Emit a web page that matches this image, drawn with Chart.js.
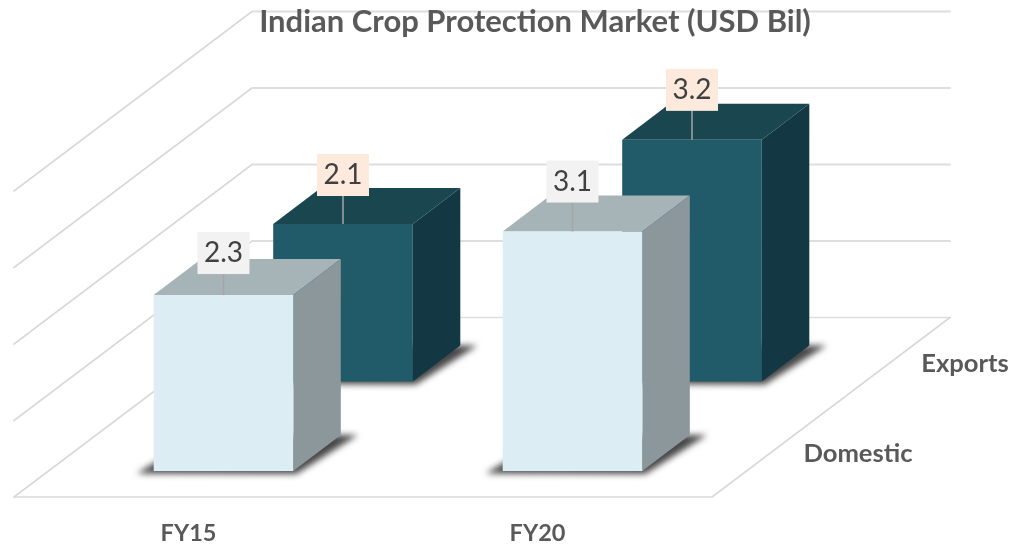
<!DOCTYPE html>
<html>
<head>
<meta charset="utf-8">
<style>html,body{margin:0;padding:0;background:#fff}canvas{display:block}</style>
<script src="https://cdn.jsdelivr.net/npm/chart.js@4"></script>
</head>
<body>
<canvas id="c" width="1011" height="548"></canvas>
<script>
const categories = ['FY15', 'FY20'];
const domesticValues = [2.3, 3.13];
const exportsValues = [2.06, 3.16];
const gridValues = [0, 1, 2, 3, 4];

const FONT = 'Lato, "Open Sans", sans-serif';
const TEXT = '#595959';
const DEPTH = {dx: 238, dy: 179.5};
const BAR_DEPTH = {dx: 47.5, dy: 36};
const STYLES = [
  {front: '#215A68', top: '#19464F', side: '#143843', labelBg: '#FDEADD', dx: 154.5, dy: 115.4, gaps: [28, 29], depthLabel: [253, -133.5]},
  {front: '#DCEEF4', top: '#A6B3B7', side: '#8B979B', labelBg: '#F2F2F2', dx: 35, dy: 26, gaps: [21, 29], depthLabel: [146, -43.5]}
];

function poly(ctx, pts, fill) {
  ctx.beginPath();
  pts.forEach((p, i) => i ? ctx.lineTo(p[0], p[1]) : ctx.moveTo(p[0], p[1]));
  ctx.closePath();
  ctx.fillStyle = fill;
  ctx.fill();
}
function line(ctx, x0, y0, x1, y1, w, color) {
  ctx.beginPath();
  ctx.moveTo(x0, y0);
  ctx.lineTo(x1, y1);
  ctx.lineWidth = w;
  ctx.strokeStyle = color;
  ctx.stroke();
}

const scene = {
  id: 'scene',
  beforeDraw(chart) {
    const {ctx, chartArea: a, scales} = chart;
    const t = chart.titleBlock;
    t.left = 69; t.right = 1001;
    ctx.save();
    ctx.lineCap = 'round';
    gridValues.forEach(v => {
      const y = scales.y.getPixelForValue(v);
      line(ctx, a.left, y, a.left + DEPTH.dx, y - DEPTH.dy, 1.6, '#D9D9D9');
      line(ctx, a.left + DEPTH.dx, y - DEPTH.dy, a.right + DEPTH.dx, y - DEPTH.dy, v === 0 ? 1.6 : 2, '#DEDEDE');
    });
    line(ctx, a.left, a.bottom, a.right, a.bottom, 1.6, '#D9D9D9');
    line(ctx, a.right, a.bottom, a.right + DEPTH.dx, a.bottom - DEPTH.dy, 1.6, '#D9D9D9');
    ctx.restore();
  },
  beforeDatasetsDraw(chart) {
    const {ctx, chartArea: a} = chart;
    ctx.save();
    const labels = [];
    chart.data.datasets.forEach((ds, di) => {
      const s = STYLES[di];
      chart.getDatasetMeta(di).data.forEach((el, i) => {
        const l = el.x - el.width / 2 + s.dx, r = el.x + el.width / 2 + s.dx;
        const top = el.y - s.dy, base = el.base - s.dy;
        const bx = BAR_DEPTH.dx, by = BAR_DEPTH.dy;
        // floor shadow
        ctx.save();
        ctx.filter = 'blur(3px)';
        poly(ctx, [[l - 17, base + 2.5], [r + 3, base + 3], [r + bx + 17, base - by], [l + bx, base - by]], 'rgba(45,45,45,0.88)');
        ctx.restore();
        // faces
        poly(ctx, [[l, top], [r, top], [r + bx, top - by], [l + bx, top - by]], s.top);
        poly(ctx, [[r, top], [r + bx, top - by], [r + bx, base - by], [r, base]], s.side);
        poly(ctx, [[l, top], [r, top], [r, base], [l, base]], ds.backgroundColor);
        labels.push({x: (l + r) / 2, y: top, gap: s.gaps[i], bg: s.labelBg, text: ds.data[i].toFixed(1)});
      });
      // depth axis label
      ctx.font = 'bold 25.6px ' + FONT;
      ctx.fillStyle = TEXT;
      ctx.textAlign = 'center';
      ctx.textBaseline = 'middle';
      ctx.fillText(ds.label, a.right + s.depthLabel[0], a.bottom + s.depthLabel[1]);
    });
    labels.forEach(b => {
      const w = 52, h = 42, bottom = b.y - b.gap;
      line(ctx, b.x, bottom, b.x, b.y, 1.5, '#A6A6A6');
      ctx.fillStyle = b.bg;
      ctx.fillRect(b.x - w / 2, bottom - h, w, h);
      ctx.font = '28px ' + FONT;
      ctx.fillStyle = '#404040';
      ctx.textAlign = 'center';
      ctx.textBaseline = 'middle';
      ctx.fillText(b.text, b.x, bottom - h / 2);
    });
    ctx.restore();
    return false;
  }
};

new Chart(document.getElementById('c'), {
  type: 'bar',
  data: {
    labels: categories,
    datasets: [
      {label: 'Exports', data: exportsValues, backgroundColor: STYLES[0].front, grouped: false, barPercentage: 1, categoryPercentage: 0.4},
      {label: 'Domestic', data: domesticValues, backgroundColor: STYLES[1].front, grouped: false, barPercentage: 1, categoryPercentage: 0.4}
    ]
  },
  options: {
    responsive: false,
    animation: false,
    layout: {padding: {left: 14, right: 299, top: 0, bottom: 0}},
    plugins: {
      legend: {display: false},
      tooltip: {enabled: false},
      title: {
        display: true,
        text: 'Indian Crop Protection Market (USD Bil)',
        color: TEXT,
        font: {family: FONT, size: 31, weight: 'bold', lineHeight: 1.2},
        padding: {top: 3.5, bottom: 150.3}
      }
    },
    scales: {
      x: {
        grid: {display: false},
        border: {display: false},
        ticks: {color: TEXT, font: {family: FONT, size: 23.5, weight: 'bold'}, padding: 14, maxRotation: 0, autoSkip: false},
        afterFit(scale) { scale.height = 51; }
      },
      y: {display: false, min: 0, max: 4}
    }
  },
  plugins: [scene]
});
</script>
</body>
</html>
